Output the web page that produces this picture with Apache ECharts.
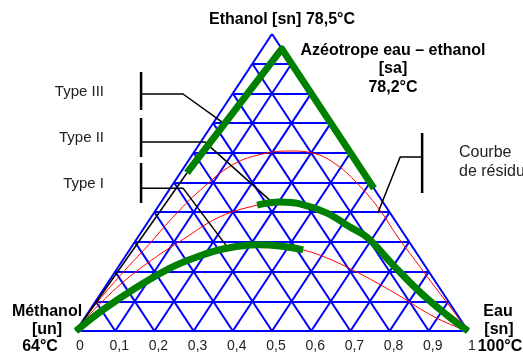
<!DOCTYPE html>
<html>
<head>
<meta charset="utf-8">
<script src="https://cdn.jsdelivr.net/npm/echarts@6/dist/echarts.min.js"></script>
<style>
  html, body { margin: 0; padding: 0; background: #fff; }
  #chart { width: 523px; height: 354px; }
</style>
</head>
<body>
<div id="chart"></div>
<script>
// Ternary compositions are written as [water fraction, ethanol fraction];
// the methanol fraction is 1 - water - ethanol.

const gridSteps = [0, 0.1, 0.2, 0.3, 0.4, 0.5, 0.6, 0.7, 0.8, 0.9, 1];
const tickLabels = ['0', '0,1', '0,2', '0,3', '0,4', '0,5', '0,6', '0,7', '0,8', '0,9', '1'];

// thin residue curves, methanol corner -> water corner
const residueUpper = [[0,0],[0.005,0.09],[0.02,0.19],[0.04,0.29],[0.055,0.38],[0.08,0.475],[0.12,0.56],[0.18,0.597],[0.243,0.606],[0.305,0.599],[0.386,0.559],[0.48,0.488],[0.572,0.407],[0.659,0.32],[0.745,0.239],[0.827,0.162],[0.914,0.081],[1,0]];
const residueMiddle = [[0,0],[0.01,0.07],[0.04,0.17],[0.08,0.25],[0.12,0.31],[0.17,0.38],[0.235,0.418],[0.303,0.434],[0.357,0.428],[0.442,0.397],[0.524,0.35],[0.584,0.316],[0.698,0.222],[0.812,0.131],[0.919,0.054],[1,0]];
const residueLower = [[0,0],[0.033,0.071],[0.082,0.148],[0.134,0.212],[0.19,0.253],[0.237,0.276],[0.317,0.29],[0.377,0.286],[0.443,0.273],[0.517,0.246],[0.604,0.205],[0.687,0.162],[0.779,0.111],[0.865,0.061],[0.933,0.027],[1,0]];

// highlighted (thick green) curves
const azeotropeBranch = [[0.017,0.532],[0.05,0.95],[0.52,0.48]];
const typeIIBranch = [[0.25,0.424],[0.303,0.434],[0.357,0.428],[0.442,0.397],[0.524,0.35],[0.584,0.316],[0.698,0.222],[0.812,0.131],[0.919,0.054],[1,0]];
const typeIBranch = [[0,0],[0.033,0.071],[0.082,0.148],[0.134,0.212],[0.19,0.253],[0.237,0.276],[0.317,0.29],[0.377,0.286],[0.443,0.273]];

// black Type III curve from the methanol corner
const typeIIIPath = [[0,0],[0.017,0.532]];

// leader lines and brackets, in plot coordinates [x, y]
const leaderTypeIII = [[0.166,0.798],[0.273,0.798],[0.372,0.704]];
const bracketTypeIII = [[0.166,0.872],[0.166,0.744]];
const leaderTypeII = [[0.166,0.636],[0.329,0.636],[0.5,0.434]];
const bracketTypeII = [[0.166,0.717],[0.166,0.586]];
const leaderTypeI = [[0.166,0.481],[0.273,0.481],[0.388,0.279]];
const bracketTypeI = [[0.166,0.566],[0.166,0.431]];
const leaderResidue = [[0.883,0.586],[0.827,0.586],[0.77,0.397]];
const bracketResidue = [[0.883,0.667],[0.883,0.465]];

// ternary -> plot coordinates (equilateral layout, x = water + ethanol/2)
function toXY(p) { return [p[0] + p[1] / 2, p[1]]; }
function path(pts) { return pts.map(toXY); }

// triangular mesh: constant ethanol, constant water, constant methanol
const meshSegments = [];
gridSteps.forEach(function (k) {
  meshSegments.push({ coords: [toXY([0, k]), toXY([1 - k, k])] });
  meshSegments.push({ coords: [toXY([k, 0]), toXY([k, 1 - k])] });
  meshSegments.push({ coords: [toXY([1 - k, 0]), toXY([0, 1 - k])] });
});

const FONT = '"Liberation Sans", Arial, Helvetica, sans-serif';

function curve(pts, color, width, z, smooth) {
  return {
    type: 'line', data: path(pts), z: z, smooth: smooth, showSymbol: false, silent: true,
    lineStyle: { color: color, width: width, cap: 'butt', join: 'round' }
  };
}
function polyline(pts, width, z) {
  return {
    type: 'line', data: pts, z: z, smooth: false, showSymbol: false, silent: true,
    lineStyle: { color: '#000', width: width }
  };
}

const option = {
  animation: false,
  backgroundColor: '#fff',
  grid: { left: 76, right: 55, top: 34, bottom: 23 },
  xAxis: {
    type: 'value', min: 0, max: 1, interval: 0.1,
    axisLine: { show: false }, axisTick: { show: false }, splitLine: { show: false },
    axisLabel: {
      margin: 8, fontSize: 14, color: '#222', fontFamily: FONT,
      padding: [0, 0, 0, 8],
      formatter: function (v) { return tickLabels[Math.round(v * 10)]; }
    }
  },
  yAxis: { type: 'value', min: 0, max: 1, show: false },
  series: [
    {
      type: 'lines', coordinateSystem: 'cartesian2d', z: 1, silent: true,
      data: meshSegments,
      lineStyle: { color: '#0000ff', width: 2, opacity: 1 }
    },
    curve(residueUpper, '#ff0000', 1, 2, 0.4),
    curve(residueMiddle, '#ff0000', 1, 2, 0.4),
    curve(residueLower, '#ff0000', 1, 2, 0.4),
    polyline(path(typeIIIPath), 1.5, 3),
    polyline(leaderTypeIII, 1.5, 3),
    polyline(bracketTypeIII, 2.5, 3),
    polyline(leaderTypeII, 1.5, 3),
    polyline(bracketTypeII, 2.5, 3),
    polyline(leaderTypeI, 1.5, 3),
    polyline(bracketTypeI, 2.5, 3),
    polyline(leaderResidue, 1.5, 3),
    polyline(bracketResidue, 2.5, 3),
    curve(azeotropeBranch, '#008000', 7, 4, false),
    curve(typeIIBranch, '#008000', 7, 4, 0.4),
    curve(typeIBranch, '#008000', 7, 4, 0.4)
  ],
  graphic: [
    { type: 'text', x: 282, y: 20, style: { text: 'Ethanol [sn] 78,5°C', font: 'bold 16px ' + FONT, fill: '#000', align: 'center', verticalAlign: 'middle' } },
    { type: 'text', x: 393, y: 41, style: { text: 'Azéotrope eau – ethanol\n[sa]\n78,2°C', font: 'bold 16px ' + FONT, fill: '#000', align: 'center', verticalAlign: 'top', lineHeight: 18.5 } },
    { type: 'text', x: 104, y: 92, style: { text: 'Type III', font: '15px ' + FONT, fill: '#222', align: 'right', verticalAlign: 'middle' } },
    { type: 'text', x: 104, y: 138, style: { text: 'Type II', font: '15px ' + FONT, fill: '#222', align: 'right', verticalAlign: 'middle' } },
    { type: 'text', x: 104, y: 184, style: { text: 'Type I', font: '15px ' + FONT, fill: '#222', align: 'right', verticalAlign: 'middle' } },
    { type: 'text', x: 459, y: 143.5, style: { text: 'Courbe\nde résidu', font: '16px ' + FONT, fill: '#222', align: 'left', verticalAlign: 'top', lineHeight: 19 } },
    { type: 'text', x: 47, y: 312, style: { text: 'Méthanol', font: 'bold 16px ' + FONT, fill: '#000', align: 'center', verticalAlign: 'middle' } },
    { type: 'text', x: 47, y: 330, style: { text: '[un]', font: 'bold 16px ' + FONT, fill: '#000', align: 'center', verticalAlign: 'middle' } },
    { type: 'text', x: 40, y: 347, style: { text: '64°C', font: 'bold 16px ' + FONT, fill: '#000', align: 'center', verticalAlign: 'middle' } },
    { type: 'text', x: 498, y: 312, style: { text: 'Eau', font: 'bold 16px ' + FONT, fill: '#000', align: 'center', verticalAlign: 'middle' } },
    { type: 'text', x: 499, y: 330, style: { text: '[sn]', font: 'bold 16px ' + FONT, fill: '#000', align: 'center', verticalAlign: 'middle' } },
    { type: 'text', x: 500, y: 347, style: { text: '100°C', font: 'bold 16px ' + FONT, fill: '#000', align: 'center', verticalAlign: 'middle' } }
  ]
};

const chart = echarts.init(document.getElementById('chart'), null, { renderer: 'canvas' });
chart.setOption(option);
</script>
</body>
</html>
